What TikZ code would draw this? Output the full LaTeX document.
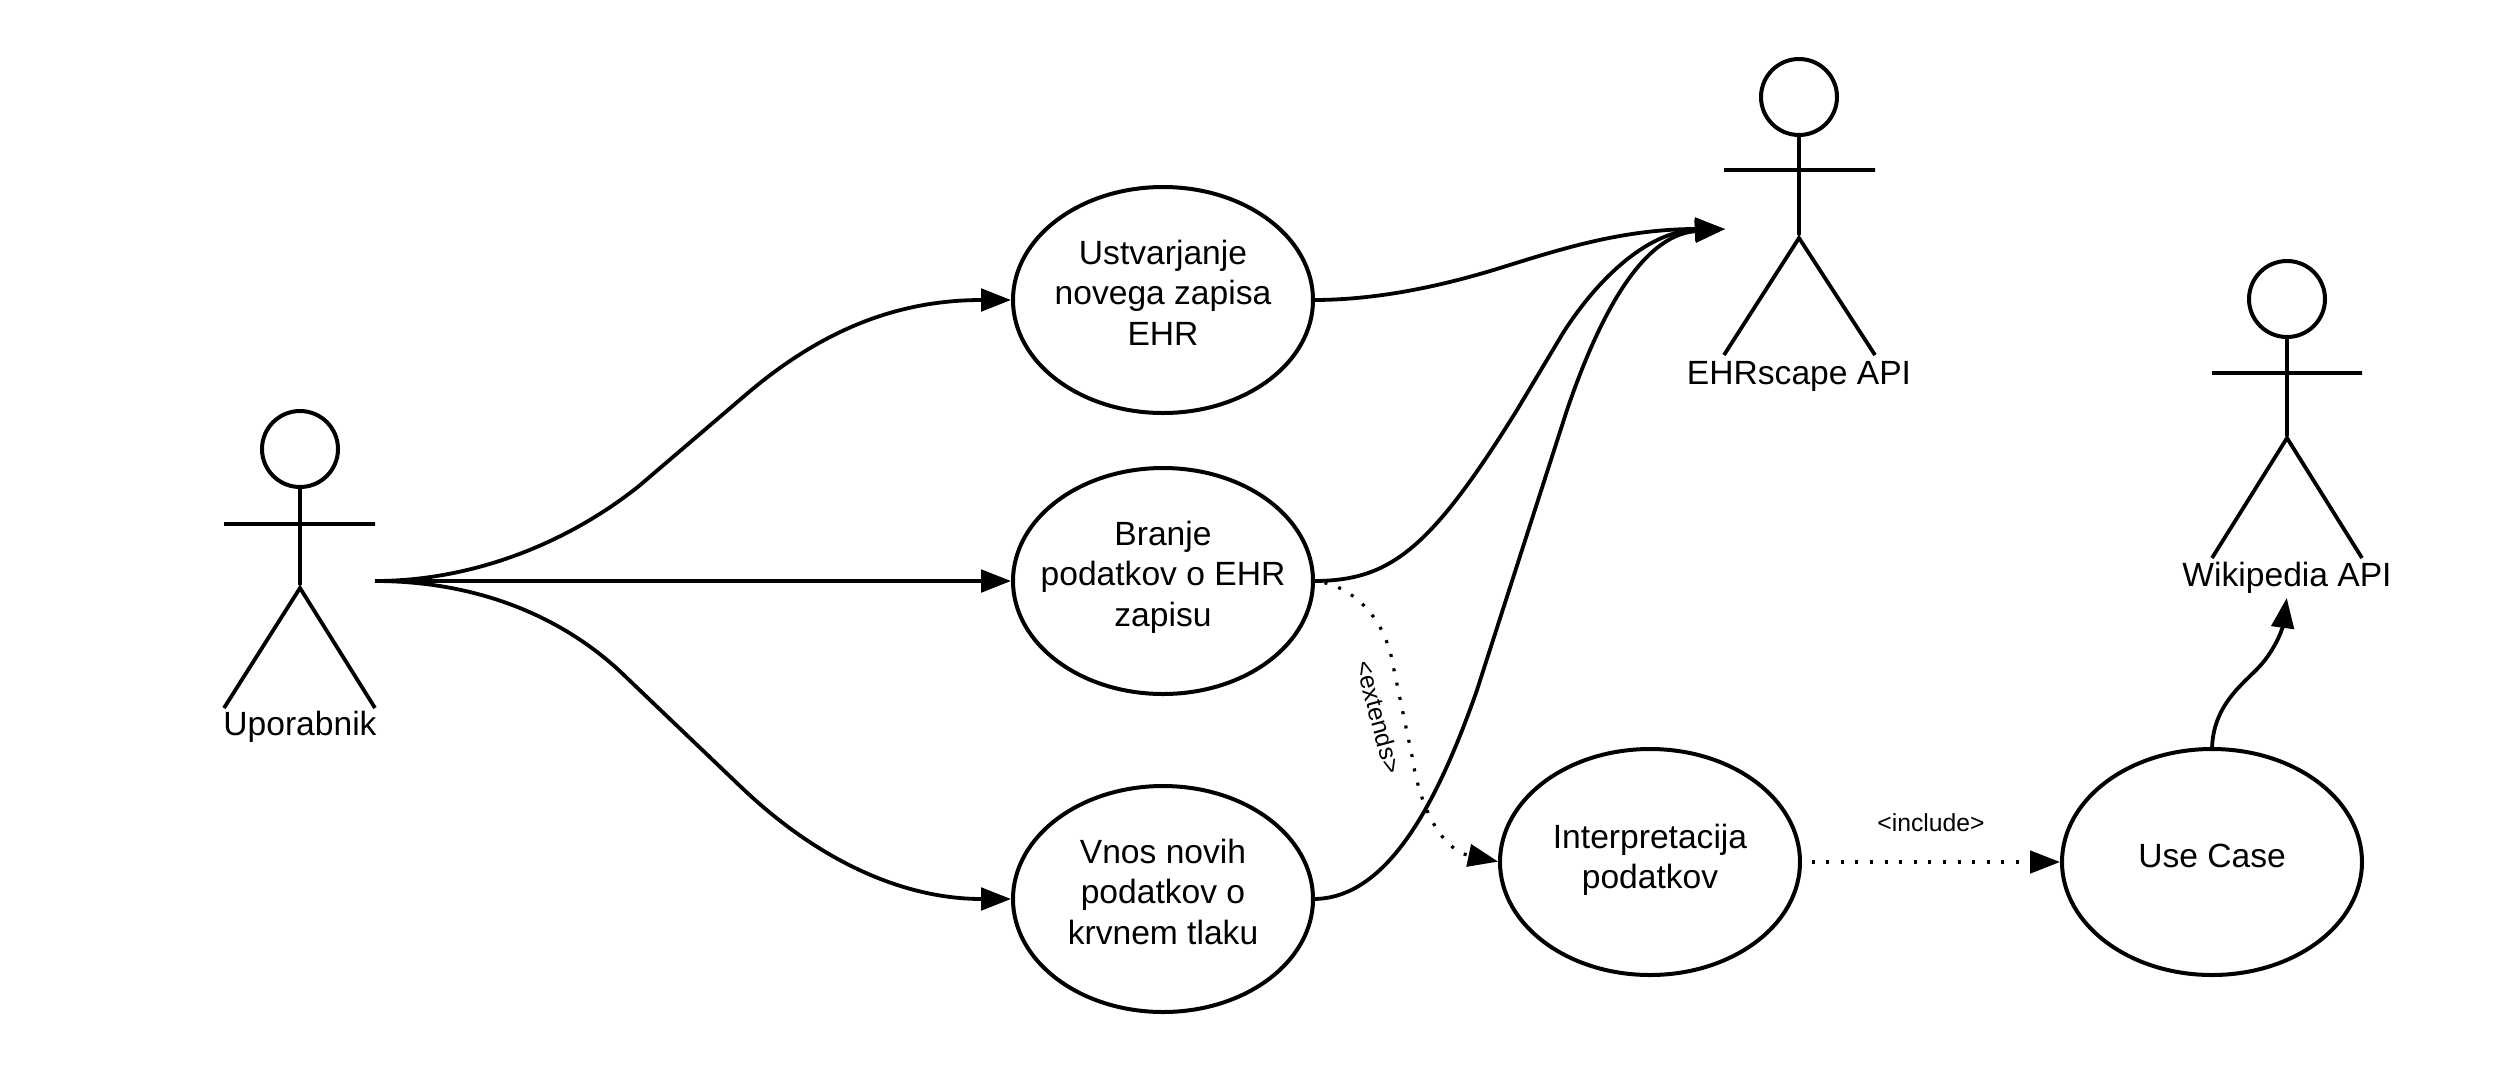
\documentclass[tikz,border=0pt]{standalone}
\usepackage{fontspec}
\setmainfont{Liberation Sans}
\usetikzlibrary{arrows.meta,shapes.geometric}
\newcommand{\rs}{\\[-26pt]\mbox{}}
\newcommand{\rt}{\\[-29pt]\mbox{}}
\tikzset{
  usecase/.style={ellipse,draw=black,line width=4pt,minimum width=300pt,minimum height=226pt,inner sep=-50pt,outer sep=0pt,align=center,font=\fontsize{33.6}{40.5}\selectfont},
  acthead/.style={ellipse,draw=black,line width=4pt,minimum width=76pt,minimum height=76pt,inner sep=0pt,outer sep=0pt},
  actlimb/.style={draw=black,line width=3.8pt},
  actname/.style={font=\fontsize{33.6}{41}\selectfont,inner sep=0pt,anchor=base},
  conn/.style={draw=black,line width=3.8pt,shorten >=2pt,-{Triangle[length=30pt,width=22.5pt]}},
  dots/.style={draw=black,line width=3.2pt,shorten >=2pt,dash pattern=on 3pt off 11.6pt,dash phase=3pt,-{Triangle[length=30pt,width=22.5pt]}},
  small/.style={font=\fontsize{24.7}{30}\selectfont,inner sep=0pt}
}
\begin{document}
\begin{tikzpicture}[x=1pt,y=-1pt]
\useasboundingbox (0,0) rectangle (2512,1088);
% actors
\node[acthead] (h1) at (300,449) {};
\draw[actlimb] (h1.south) -- (300,585) (224,524) -- (375,524) (224,708) -- (300,588) -- (375,708);
\node[actname] (a1) at (300,735) {Uporabnik};
\node[acthead] (h2) at (1799,97) {};
\draw[actlimb] (h2.south) -- (1799,235) (1724,170) -- (1875,170) (1724,355) -- (1799,238) -- (1875,355);
\node[actname] (a2) at (1799,384) {EHRscape API};
\node[acthead] (h3) at (2287,299) {};
\draw[actlimb] (h3.south) -- (2287,436) (2212,373) -- (2362,373) (2212,558) -- (2287,438) -- (2362,558);
\node[actname] (a3) at (2287,586) {Wikipedia API};
% use cases
\node[usecase] (u1) at (1163,300) {Ustvarjanje\\novega zapisa\\EHR\rs};
\node[usecase] (u2) at (1163,581) {Branje\\podatkov o EHR\\zapisu\rs};
\node[usecase] (u3) at (1163,899) {Vnos novih\\podatkov o\\krvnem tlaku\rs};
\node[usecase] (u4) at (1650,862) {Interpretacija\\podatkov\rt};
\node[usecase] (u5) at (2212,862) {Use Case\rt};
\coordinate (src) at (375,581);
\coordinate (ehrin) at (1727,229);
% connectors
\draw[conn] (src) .. controls (470,581) and (565,545) .. (639,486) -- (749,392) .. controls (825,328) and (900,300) .. (u1.west);
\draw[conn] (src) -- (u2.west);
\draw[conn] (src) .. controls (470,581) and (560,612) .. (627,678) -- (740,786) .. controls (815,858) and (900,899) .. (u3.west);
\draw[conn] (u1.east) .. controls (1380,300) and (1445,285) .. (1500,268) .. controls (1555,251) and (1620,229) .. (ehrin);
\draw[conn] (u2.east) .. controls (1390,581) and (1430,550) .. (1517,410) -- (1563,333) .. controls (1600,275) and (1650,231) .. (ehrin);
\draw[conn] (u3.east) .. controls (1385,899) and (1435,810) .. (1477,690) -- (1567,410) .. controls (1597,322) and (1640,235) .. (ehrin);
\draw[conn] (u5.north) .. controls (2213,700) and (2250,680) .. (2265,660) .. controls (2280,640) and (2283,625) .. (2287,596);
\draw[dots] (u2.east) .. controls (1345,583) and (1385,610) .. (1394,670) -- (1412,756) .. controls (1420,810) and (1443,850) .. (u4.west);
\draw[dots] (u4.east) -- (u5.west);
% labels
\node[small] (lext) at (1379,717) [rotate=-75] {<extends>};
\node[small] (linc) at (1931,823) {<include>};
\end{tikzpicture}
\end{document}
